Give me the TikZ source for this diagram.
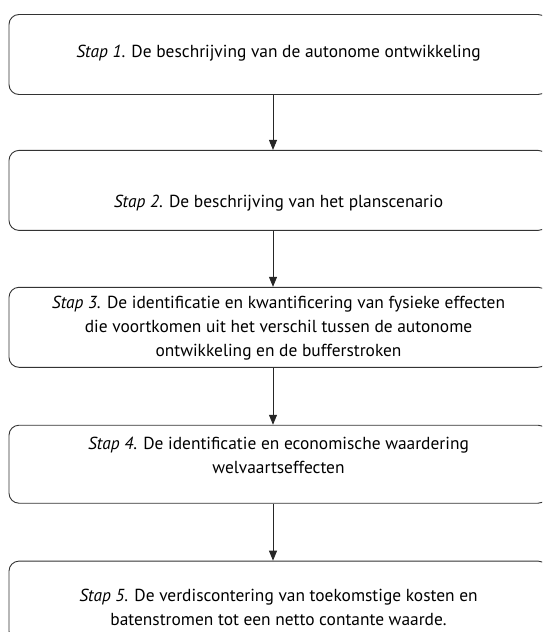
\documentclass[tikz,border=0pt]{standalone}
\usepackage{fontspec}
\setmainfont{PT Sans}
\usetikzlibrary{positioning,arrows.meta}
% tekst binnen een kader iets omhoog of omlaag schuiven
\newcommand{\schuif}[2]{\raisebox{#1}[\height][\depth]{\begin{tabular}{@{}c@{}}#2\end{tabular}}}
\begin{document}
\begin{tikzpicture}[
    x=1pt, y=1pt,
    node distance=56pt,
    stapbox/.style={draw=black!80, line width=0.9pt, rounded corners=10pt,
        minimum width=539pt, minimum height=80pt, inner sep=0pt,
        align=center, font=\fontsize{17.4}{24}\selectfont},
    pijl/.style={-{Triangle[length=10pt,width=8pt]}, line width=0.9pt, draw=black!85}
]
\clip (0,0) rectangle (542,-632);
% Stappen
\node[stapbox] (s1) at (278.5,-54.5) {\schuif{2pt}{\textit{Stap 1}. De beschrijving van de autonome ontwikkeling}};
\node[stapbox, below=55pt of s1] (s2) {\schuif{-12pt}{\textit{Stap 2}. De beschrijving van het planscenario}};
\node[stapbox, below=of s2] (s3) {\schuif{0pt}{\textit{Stap 3.} De identificatie en kwantificering van fysieke effecten\\
    die voortkomen uit het verschil tussen de autonome\\
    ontwikkeling en de bufferstroken}};
\node[stapbox, below=57pt of s3, minimum height=78pt] (s4) {\schuif{8pt}{\textit{Stap 4}. De identificatie en economische waardering\\
    welvaartseffecten}};
\node[stapbox, below=57pt of s4] (s5) {\schuif{-8pt}{\textit{Stap 5.} De verdiscontering van toekomstige kosten en\\
    batenstromen tot een netto contante waarde.}};
% Pijlen
\coordinate (as) at (273,0);
\draw[pijl] (s1.south -| as) -- (s2.north -| as);
\draw[pijl] (s2.south -| as) -- (s3.north -| as);
\draw[pijl] (s3.south -| as) -- (s4.north -| as);
\draw[pijl] (s4.south -| as) -- (s5.north -| as);
\end{tikzpicture}
\end{document}
